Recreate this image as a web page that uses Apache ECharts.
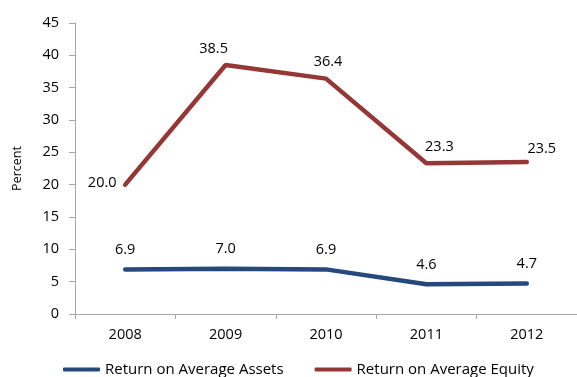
<!DOCTYPE html>
<html>
<head>
<meta charset="utf-8">
<script src="https://cdn.jsdelivr.net/npm/echarts@6/dist/echarts.min.js"></script>
<style>
  html, body { margin: 0; padding: 0; background: #fff; }
  #chart { width: 577px; height: 377px; }
</style>
</head>
<body>
<div id="chart"></div>
<script>
// Profitability ratios, 2008–2012
const years = ['2008', '2009', '2010', '2011', '2012'];
const assetsReturn = [6.9, 7.0, 6.9, 4.6, 4.7];
const equityReturn = [20.0, 38.5, 36.4, 23.3, 23.5];
const yTicks = [0, 5, 10, 15, 20, 25, 30, 35, 40, 45];

const FONT = '"Open Sans", "Noto Sans", sans-serif';
const FS = 14.5;
const BLUE = '#24497A';
const RED = '#953735';
const AXIS = '#A6A6A6';

// label placement per point for the equity series
const equityLabelOffsets = [[-23, 16], [-12, 1], [2, 1], [13, 1], [15, 4]];

const chart = echarts.init(document.getElementById('chart'));
chart.setOption({
  animation: false,
  textStyle: { fontFamily: FONT },
  grid: { left: 75, top: 23, width: 505, bottom: 63 },
  legend: {
    left: 58,
    top: 357,
    itemWidth: 37,
    itemHeight: 4,
    itemGap: 31,
    icon: 'roundRect',
    textStyle: { fontFamily: FONT, fontSize: 15, color: '#000' },
    data: ['Return on Average Assets', 'Return on Average Equity']
  },
  xAxis: {
    type: 'category',
    data: years,
    boundaryGap: true,
    axisLine: { lineStyle: { color: AXIS, width: 1 } },
    axisTick: { show: true, length: 5, lineStyle: { color: AXIS } },
    axisLabel: { color: '#000', fontSize: FS, fontFamily: FONT, margin: 13 },
    splitLine: { show: false }
  },
  yAxis: {
    type: 'value',
    min: yTicks[0],
    max: yTicks[yTicks.length - 1],
    interval: 5,
    name: 'Percent',
    nameLocation: 'middle',
    nameGap: 51,
    nameTextStyle: { color: '#000', fontSize: 12.5, fontFamily: FONT },
    axisLine: { show: true, lineStyle: { color: AXIS, width: 1 } },
    axisTick: { show: true, length: 6, lineStyle: { color: AXIS } },
    axisLabel: { color: '#000', fontSize: FS, fontFamily: FONT, margin: 16 },
    splitLine: { show: false }
  },
  series: [
    {
      name: 'Return on Average Assets',
      type: 'line',
      data: assetsReturn,
      color: BLUE,
      symbol: 'circle',
      symbolSize: 0,
      showSymbol: true,
      lineStyle: { width: 4.5, color: BLUE, cap: 'round' },
      label: {
        show: true,
        position: 'top',
        distance: 12,
        color: '#000',
        fontSize: FS,
        fontFamily: FONT,
        formatter: p => Number(p.value).toFixed(1)
      }
    },
    {
      name: 'Return on Average Equity',
      type: 'line',
      data: equityReturn.map((v, i) => ({
        value: v,
        label: { offset: equityLabelOffsets[i] }
      })),
      color: RED,
      symbol: 'circle',
      symbolSize: 0,
      showSymbol: true,
      lineStyle: { width: 4.5, color: RED, cap: 'round' },
      label: {
        show: true,
        position: 'top',
        distance: 10,
        color: '#000',
        fontSize: FS,
        fontFamily: FONT,
        formatter: p => Number(p.value).toFixed(1)
      }
    }
  ]
});
</script>
</body>
</html>
